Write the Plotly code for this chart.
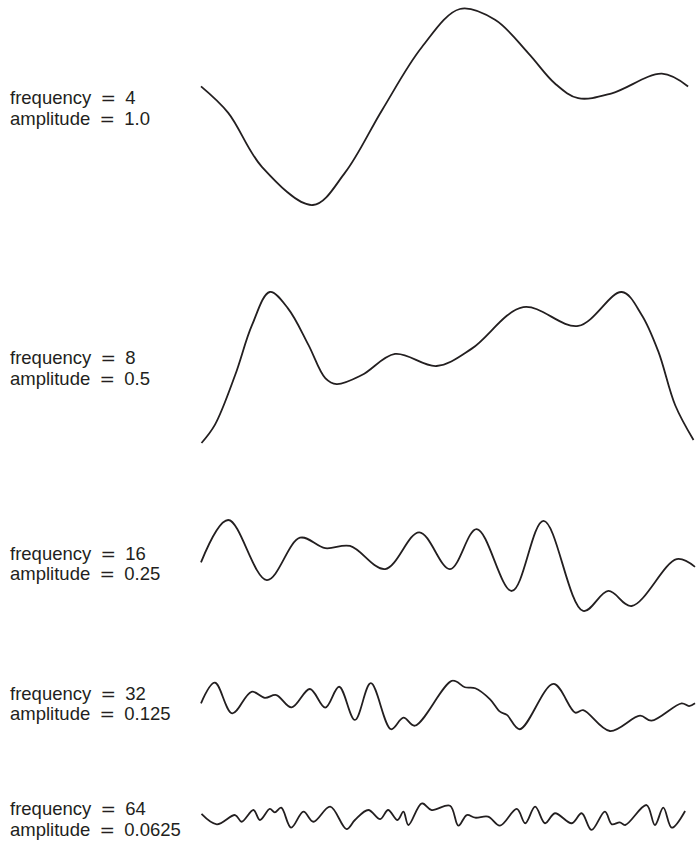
import plotly.graph_objects as go

# octaves of a 1D noise curve: frequency, amplitude and the curve
frequencies = [4, 8, 16, 32, 64]
amplitudes = ["1.0", "0.5", "0.25", "0.125", "0.0625"]

# x runs 0..1 along the curve, y is normalised to -1..1 inside each row
x_f4 = [0.0, 0.055, 0.123, 0.226, 0.291, 0.366, 0.446, 0.523, 0.594, 0.661, 0.715, 0.762, 0.830, 0.931, 0.984]
y_f4 = [0.21, -0.06, -0.61, -1.0, -0.67, -0.03, 0.61, 1.0, 0.89, 0.55, 0.24, 0.09, 0.14, 0.34, 0.21]

x_f8 = [0.001, 0.028, 0.069, 0.103, 0.139, 0.176, 0.217, 0.251, 0.274, 0.325, 0.392, 0.476, 0.547, 0.651,
        0.762, 0.850, 0.890, 0.924, 0.958, 0.995]
y_f8 = [-1.0, -0.76, -0.10, 0.56, 1.0, 0.78, 0.30, -0.14, -0.22, -0.10, 0.18, 0.02, 0.25, 0.80,
        0.55, 1.0, 0.70, 0.21, -0.50, -0.96]

x_f16 = [0.0, 0.055, 0.133, 0.200, 0.251, 0.301, 0.372, 0.441, 0.503, 0.557, 0.628, 0.692, 0.772, 0.823,
         0.870, 0.961, 0.998]
y_f16 = [0.07, 1.0, -0.32, 0.61, 0.38, 0.43, -0.08, 0.73, -0.08, 0.80, -0.56, 0.98, -1.0, -0.56,
         -0.89, 0.14, -0.03]

x_f32 = [0.0, 0.028, 0.063, 0.102, 0.129, 0.152, 0.183, 0.220, 0.251, 0.279, 0.311, 0.343, 0.384, 0.409,
         0.432, 0.508, 0.533, 0.554, 0.584, 0.604, 0.618, 0.644, 0.712, 0.756, 0.772, 0.826, 0.887, 0.910,
         0.971, 0.986, 0.998]
y_f32 = [0.10, 0.92, -0.30, 0.56, 0.32, 0.43, -0.06, 0.67, -0.07, 0.76, -0.56, 0.90, -0.93, -0.47,
         -0.79, 1.0, 0.74, 0.70, 0.26, -0.23, -0.36, -0.93, 0.87, -0.27, -0.17, -1.0, -0.39, -0.59,
         0.10, -0.01, 0.10]

x_f64 = [0.001, 0.032, 0.069, 0.082, 0.106, 0.119, 0.139, 0.149, 0.162, 0.182, 0.207, 0.227, 0.261, 0.294,
         0.311, 0.338, 0.362, 0.378, 0.397, 0.409, 0.419, 0.446, 0.466, 0.503, 0.520, 0.537, 0.554, 0.580,
         0.604, 0.638, 0.655, 0.675, 0.695, 0.715, 0.749, 0.769, 0.789, 0.816, 0.830, 0.846, 0.857, 0.900,
         0.917, 0.934, 0.951, 0.978]
y_f64 = [0.19, -0.58, 0.11, -0.39, 0.48, -0.26, 0.56, 0.31, 0.65, -0.83, 0.36, -0.39, 0.73, -0.93,
         -0.26, 0.48, -0.19, 0.48, -0.26, 0.36, -0.63, 0.98, 0.48, 0.80, -0.68, 0.11, -0.09, -0.01,
         -0.68, 0.56, -0.50, 0.73, -0.50, 0.24, -0.50, 0.24, -1.0, 0.36, -0.58, -0.43, -0.63, 0.85,
         -0.63, 0.65, -0.83, 0.41]

curves = [(x_f4, y_f4), (x_f8, y_f8), (x_f16, y_f16), (x_f32, y_f32), (x_f64, y_f64)]

W, H = 696, 843
# row placement in pixels: curve centre, curve half height, label line centres
row_center = [107, 367.5, 565.5, 705.85, 816.5]
row_half = [98, 75.5, 45.5, 25.15, 13.5]
label_freq_y = [98, 358, 553, 693, 808]
label_amp_y = [118, 378, 573, 713, 829]

ink = "#231f20"
pad = 1.05

fig = go.Figure()
layout = dict(
    width=W, height=H,
    margin=dict(l=0, r=0, t=0, b=0),
    paper_bgcolor="white", plot_bgcolor="white",
    showlegend=False,
    xaxis=dict(domain=[(201 - 0.004 * 495) / W, 1], range=[-0.004, 1.0],
               visible=False, fixedrange=True),
)

annotations = []
eq = '<span style="font-family:DejaVu Sans">=</span>'
for i, (xs, ys) in enumerate(curves):
    n = i + 1
    yname = "y" if n == 1 else "y%d" % n
    fig.add_trace(go.Scatter(
        x=xs, y=ys, mode="lines", xaxis="x", yaxis=yname,
        line=dict(color=ink, width=1.8, shape="spline", smoothing=1),
        hoverinfo="skip",
    ))
    top = row_center[i] - row_half[i] * pad
    bot = row_center[i] + row_half[i] * pad
    layout["yaxis" if n == 1 else "yaxis%d" % n] = dict(
        domain=[1 - bot / H, 1 - top / H], range=[-pad, pad],
        anchor="x", visible=False, fixedrange=True,
    )
    for txt, ypx in [("frequency\u2002" + eq + "\u2002" + str(frequencies[i]), label_freq_y[i]),
                     ("amplitude\u2002" + eq + "\u2002" + amplitudes[i], label_amp_y[i])]:
        annotations.append(dict(
            text=txt, xref="paper", yref="paper", x=8 / W, y=1 - ypx / H,
            xanchor="left", yanchor="middle", showarrow=False,
            font=dict(family="Liberation Sans, Arial, Helvetica, sans-serif", size=18.5, color=ink),
        ))

layout["annotations"] = annotations
fig.update_layout(**layout)

# drop the browser's default 8px body margin so the figure sits at the page corner
fig.write_html("out.html", config={"displayModeBar": False},
               post_script="document.body.style.margin='0';")
